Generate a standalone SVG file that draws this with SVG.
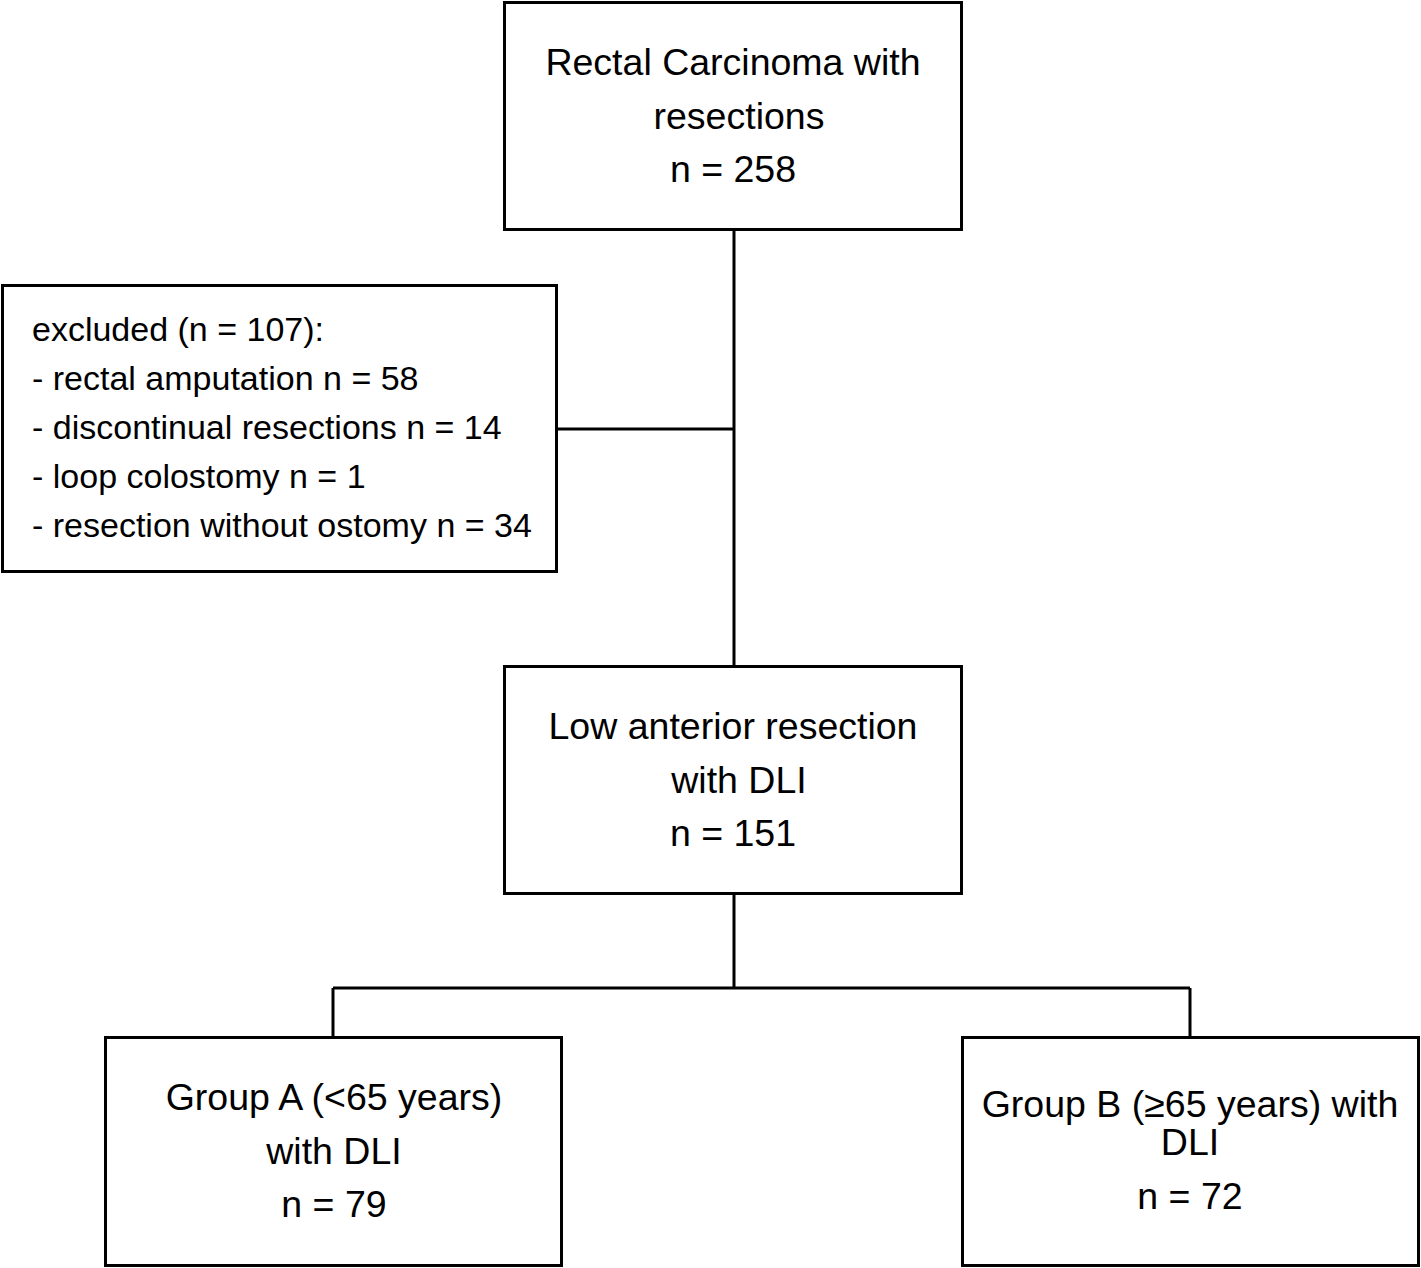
<svg xmlns="http://www.w3.org/2000/svg" width="1421" height="1268" viewBox="0 0 1421 1268">
<style>
.box{fill:#fff;stroke:#000;stroke-width:3}
.ln{fill:none;stroke:#000;stroke-width:3}
.t{font-family:"Liberation Sans",Arial,sans-serif;font-size:37.5px;fill:#000;text-anchor:middle}
.e{font-family:"Liberation Sans",Arial,sans-serif;font-size:34px;fill:#000}
</style>
<rect width="1421" height="1268" fill="#fff"/>
<g id="connectors">
<path class="ln" d="M734 230V666M557 429H734M734 894V988M333 988H1190M333 988V1037M1190 988V1037"/>
</g>
<g id="n1">
<rect class="box" x="504.5" y="2.5" width="457" height="227"/>
<text class="t" x="733" y="75">Rectal Carcinoma with</text>
<text class="t" x="739" y="129">resections</text>
<text class="t" x="733" y="182">n = 258</text>
</g>
<g id="n2">
<rect class="box" x="2.5" y="285.5" width="554" height="286"/>
<text class="e" x="32" y="341">excluded (n = 107):</text>
<text class="e" x="32" y="390">- rectal amputation n = 58</text>
<text class="e" x="32" y="439">- discontinual resections n = 14</text>
<text class="e" x="32" y="488">- loop colostomy n = 1</text>
<text class="e" x="32" y="537">- resection without ostomy n = 34</text>
</g>
<g id="n3">
<rect class="box" x="504.5" y="666.5" width="457" height="227"/>
<text class="t" x="733" y="739">Low anterior resection</text>
<text class="t" x="739" y="793">with DLI</text>
<text class="t" x="733" y="846">n = 151</text>
</g>
<g id="n4">
<rect class="box" x="105.5" y="1037.5" width="456" height="228"/>
<text class="t" x="334" y="1110">Group A (&lt;65 years)</text>
<text class="t" x="334" y="1164">with DLI</text>
<text class="t" x="334" y="1217">n = 79</text>
</g>
<g id="n5">
<rect class="box" x="962.5" y="1037.5" width="456" height="228"/>
<text class="t" x="1190" y="1117">Group B (≥65 years) with</text>
<text class="t" x="1190" y="1155">DLI</text>
<text class="t" x="1190" y="1209">n = 72</text>
</g>
</svg>
